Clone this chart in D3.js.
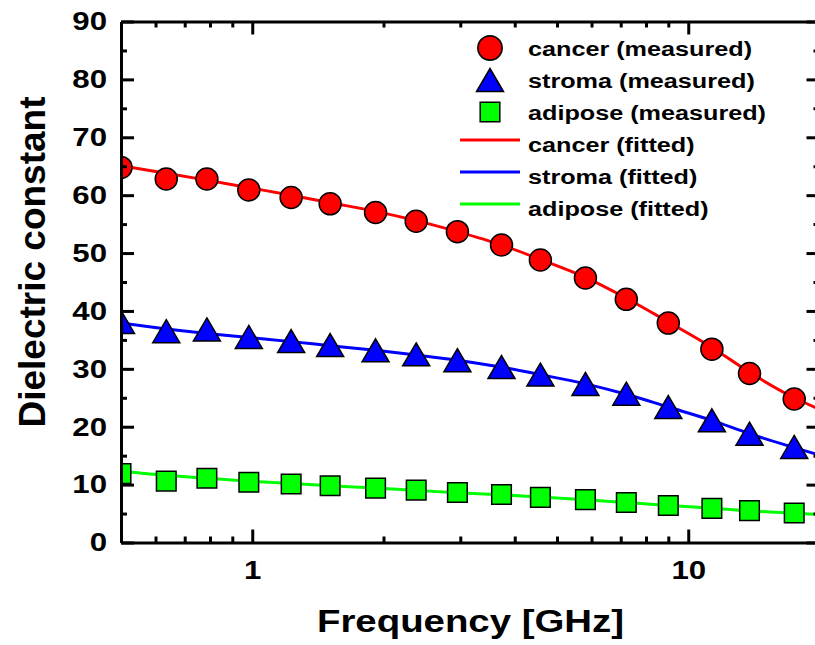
<!DOCTYPE html>
<html>
<head>
<meta charset="utf-8">
<script src="https://cdn.jsdelivr.net/npm/d3@7"></script>
<style>
  html, body { margin: 0; padding: 0; background: #fff; }
  svg { display: block; }
  text { font-family: "Liberation Sans", Arial, Helvetica, sans-serif; font-weight: bold; fill: #000; }
</style>
</head>
<body>
<svg id="chart"></svg>
<script>
// measured frequencies [GHz]
const freq = [0.5, 0.635, 0.787, 0.982, 1.228, 1.509, 1.918, 2.377, 2.955, 3.73, 4.58, 5.81, 7.21, 9.0, 11.33, 13.82, 17.5];
const cancerMeasured  = [64.8, 62.8, 62.8, 60.9, 59.6, 58.5, 57.0, 55.5, 53.7, 51.4, 48.8, 45.7, 42.0, 37.9, 33.4, 29.2, 24.8];
const stromaMeasured  = [38.1, 36.5, 36.8, 35.5, 34.8, 34.1, 33.2, 32.5, 31.5, 30.3, 29.0, 27.4, 25.7, 23.4, 21.1, 18.8, 16.5];
const adiposeMeasured = [11.9, 10.6, 11.1, 10.4, 10.1, 9.8, 9.4, 9.05, 8.65, 8.3, 7.8, 7.4, 6.9, 6.4, 5.9, 5.5, 5.1];

// fitted curves, read at the same frequencies plus the right edge (20 GHz)
const fitFreq = freq.concat([20]);
const cancerFitted  = [65.1, 63.8, 62.6, 61.3, 60.0, 58.7, 57.2, 55.6, 53.7, 51.4, 48.9, 45.8, 42.2, 38.1, 33.7, 29.4, 25.0, 23.0];
const stromaFitted  = [37.9, 36.9, 36.1, 35.4, 34.7, 34.0, 33.2, 32.4, 31.5, 30.3, 29.0, 27.4, 25.6, 23.4, 21.1, 18.8, 16.4, 15.1];
const adiposeFitted = [12.3, 11.6, 11.1, 10.6, 10.2, 9.8, 9.4, 9.0, 8.6, 8.25, 7.85, 7.4, 6.9, 6.4, 5.9, 5.45, 5.05, 4.85];

const xMajor = [1, 10];
const xMinor = [0.6, 0.7, 0.8, 0.9, 2, 3, 4, 5, 6, 7, 8, 9, 20];
const yMajor = [0, 10, 20, 30, 40, 50, 60, 70, 80, 90];
const yMinor = [5, 15, 25, 35, 45, 55, 65, 75, 85];

const legendLabels = ["cancer (measured)", "stroma (measured)", "adipose (measured)",
                      "cancer (fitted)", "stroma (fitted)", "adipose (fitted)"];

const W = 815, H = 645;
const plotL = 121, plotR = 819.5, plotT = 21.5, plotB = 542.5;
const SX = 1.2; // text in the original is drawn wider than Arial

const svg = d3.select("#chart").attr("width", W).attr("height", H);

const x = d3.scaleLog().domain([0.5, 20]).range([plotL, plotR]);
const y = d3.scaleLinear().domain([0, 90]).range([plotB, plotT]);

svg.append("clipPath").attr("id", "plot-clip")
  .append("rect").attr("x", plotL).attr("y", plotT).attr("width", plotR - plotL).attr("height", plotB - plotT);

const plot = svg.append("g").attr("clip-path", "url(#plot-clip)");

const series = [
  { meas: cancerMeasured, fit: cancerFitted, color: "#ff0000", shape: "circle" },
  { meas: stromaMeasured, fit: stromaFitted, color: "#0000ff", shape: "triangle" },
  { meas: adiposeMeasured, fit: adiposeFitted, color: "#00ff00", shape: "square" }
];

const line = d3.line().curve(d3.curveMonotoneX);

function markerPath(shape) {
  if (shape === "circle") return d3.symbol(d3.symbolCircle, Math.PI * 11 * 11)();
  if (shape === "square") return "M-9.8,-9.8H9.8V9.8H-9.8Z";
  return "M0,-11.5L13.5,11.5L-13.5,11.5Z";
}

// fitted lines first, markers on top
series.forEach(s => {
  plot.append("path")
    .attr("d", line(fitFreq.map((f, i) => [x(f), y(s.fit[i])])))
    .attr("fill", "none")
    .attr("stroke", s.color)
    .attr("stroke-width", 3);
});
series.forEach(s => {
  plot.selectAll(null)
    .data(freq.map((f, i) => [f, s.meas[i]]))
    .enter().append("path")
    .attr("d", markerPath(s.shape))
    .attr("transform", d => `translate(${x(d[0])},${y(d[1])})`)
    .attr("fill", s.color)
    .attr("stroke", "#000")
    .attr("stroke-width", 1.5);
});

// axes
function styleAxis(g) {
  g.select(".domain").attr("stroke", "#000").attr("stroke-width", 3);
  g.selectAll(".tick line").attr("stroke", "#000").attr("stroke-width", 3);
}

// bottom
svg.append("g").attr("transform", `translate(0,${plotB})`)
  .call(d3.axisBottom(x).tickValues(xMinor).tickSize(-6).tickFormat(""))
  .call(g => g.select(".domain").remove())
  .call(styleAxis);
svg.append("g").attr("transform", `translate(0,${plotB})`)
  .call(d3.axisBottom(x).tickValues(xMajor).tickSizeInner(-13).tickSizeOuter(0).tickPadding(18).tickFormat(d3.format("d")))
  .call(styleAxis)
  .call(g => g.selectAll(".tick text")
    .attr("font-size", 26).attr("transform", `scale(${SX},1)`));

// top
svg.append("g").attr("transform", `translate(0,${plotT})`)
  .call(d3.axisTop(x).tickValues(xMinor).tickSize(-6).tickFormat(""))
  .call(g => g.select(".domain").remove())
  .call(styleAxis);
svg.append("g").attr("transform", `translate(0,${plotT})`)
  .call(d3.axisTop(x).tickValues(xMajor).tickSizeInner(-13).tickSizeOuter(0).tickFormat(""))
  .call(styleAxis);

// left
svg.append("g").attr("transform", `translate(${plotL},0)`)
  .call(d3.axisLeft(y).tickValues(yMinor).tickSize(-6).tickFormat(""))
  .call(g => g.select(".domain").remove())
  .call(styleAxis);
svg.append("g").attr("transform", `translate(${plotL},0)`)
  .call(d3.axisLeft(y).tickValues(yMajor).tickSizeInner(-13).tickSizeOuter(0).tickFormat(d3.format("d")))
  .call(styleAxis)
  .call(g => g.selectAll(".tick text")
    .attr("font-size", 26).attr("x", -14 / SX).attr("transform", `scale(${SX},1)`));

// right
svg.append("g").attr("transform", `translate(${plotR},0)`)
  .call(d3.axisRight(y).tickValues(yMinor).tickSize(-6).tickFormat(""))
  .call(g => g.select(".domain").remove())
  .call(styleAxis);
svg.append("g").attr("transform", `translate(${plotR},0)`)
  .call(d3.axisRight(y).tickValues(yMajor).tickSizeInner(-13).tickSizeOuter(0).tickFormat(""))
  .call(styleAxis);

// axis titles
svg.append("text")
  .attr("transform", `translate(470.5,632) scale(${SX},1)`)
  .attr("text-anchor", "middle")
  .attr("font-size", 32)
  .text("Frequency [GHz]");

svg.append("text")
  .attr("transform", "translate(45,262) rotate(-90)")
  .attr("text-anchor", "middle")
  .attr("font-size", 37)
  .text("Dielectric constant");

// legend
const legend = svg.append("g");
legendLabels.forEach((label, i) => {
  const rowY = 48 + i * 32;
  const s = series[i % 3];
  if (i < 3) {
    legend.append("path")
      .attr("d", markerPath(s.shape))
      .attr("transform", `translate(490,${rowY})${s.shape === "circle" ? " scale(1.1)" : ""}`)
      .attr("fill", s.color).attr("stroke", "#000").attr("stroke-width", 1.5);
  } else {
    legend.append("line")
      .attr("x1", 460).attr("x2", 520).attr("y1", rowY - 4).attr("y2", rowY - 4)
      .attr("stroke", s.color).attr("stroke-width", 3);
  }
  legend.append("text")
    .attr("transform", `translate(528,${rowY + 8}) scale(${SX},1)`)
    .attr("font-size", 21)
    .text(label);
});
</script>
</body>
</html>
